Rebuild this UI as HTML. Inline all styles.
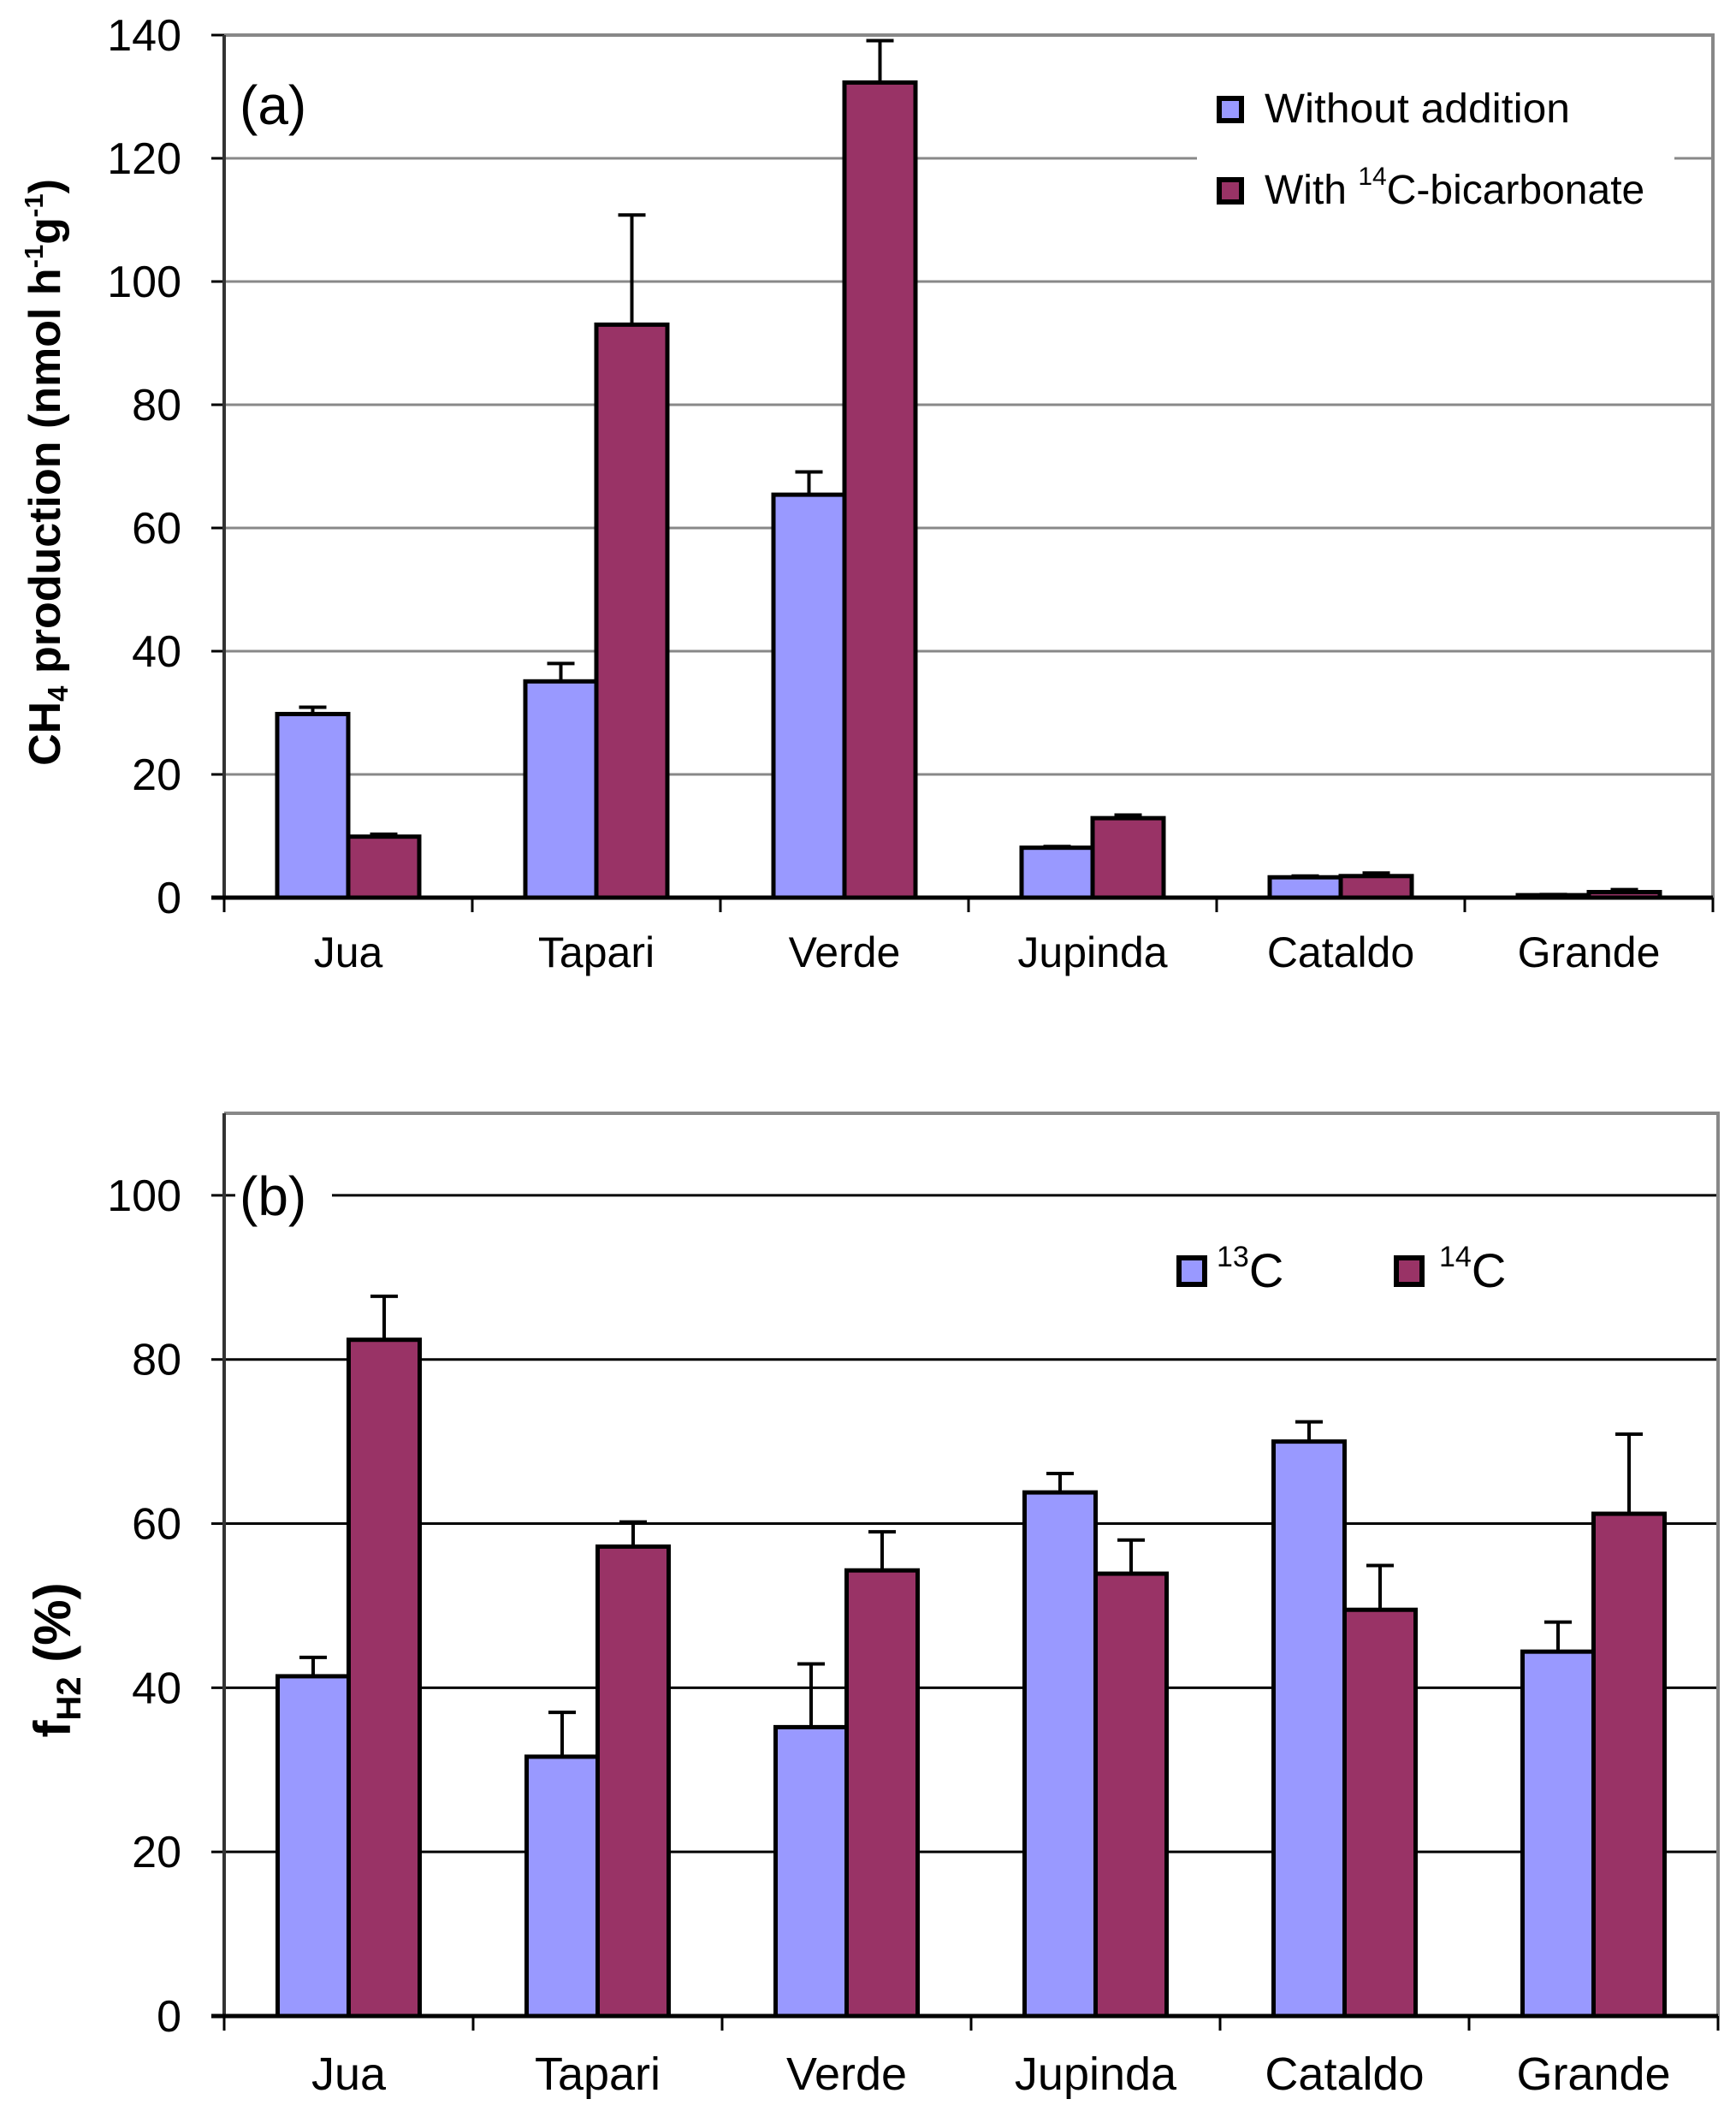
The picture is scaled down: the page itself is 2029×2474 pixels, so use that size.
<!DOCTYPE html>
<html><head><meta charset="utf-8"><style>
html,body{margin:0;padding:0;background:#fff;}
svg{display:block;font-family:"Liberation Sans",Arial,sans-serif;}
</style></head><body>
<svg id="chart" width="2029" height="2474" viewBox="0 0 2029 2474" xmlns="http://www.w3.org/2000/svg"></svg>
<script>
const categories = ["Jua","Tapari","Verde","Jupinda","Cataldo","Grande"];
const aBlue = [29.8,35.1,65.4,8.1,3.3,0.4];
const aBlueErr = [30.9,38,69.1,8.3,3.5,0.5];
const aRed = [9.9,93,132.3,12.9,3.5,0.9];
const aRedErr = [10.3,110.8,139.1,13.4,4,1.3];
const aTicks = [0,20,40,60,80,100,120,140];
const bBlue = [41.4,31.6,35.2,63.8,70,44.4];
const bBlueErr = [43.7,37,42.9,66.1,72.4,48];
const bRed = [82.4,57.2,54.3,53.9,49.5,61.2];
const bRedErr = [87.7,60.2,59,58,54.9,70.9];
const bTicks = [0,20,40,60,80,100];

const NS="http://www.w3.org/2000/svg";
const svg=document.getElementById('chart');
function mk(tag,attrs,parent){const e=document.createElementNS(NS,tag);for(const k in attrs)e.setAttribute(k,attrs[k]);(parent||svg).appendChild(e);return e;}
const BLUE="#9999ff", RED="#993366";

function panel(opt){
  const g=mk('g',{});
  
  
  const L=262,R=opt.right,T=opt.top,B=opt.bottom,max=opt.max;
  const y=v=>B-(v/max)*(B-T);
  const cw=(R-L)/categories.length;
  const x=i=>L+i*cw;
  opt.ticks.forEach(t=>{
    if(t===0)return;
    const l=mk('line',{x1:L,x2:R,y1:y(t),y2:y(t),stroke:opt.grid,'stroke-width':3},g);
    
    
  });
  const fr=mk('polyline',{points:`${L},${T} ${R},${T} ${R},${B}`,fill:'none',stroke:'#888','stroke-width':4},g);
  
  
  if(opt.legendBg){const lb=mk('rect',opt.legendBg,g);lb.setAttribute('fill','#fff');
    
    }
  const lbg=mk('rect',{x:275,y:opt.labelY-60,width:113,height:80,fill:'#fff'},g);
  
  
  opt.ticks.forEach(t=>{
    mk('line',{x1:247,x2:L,y1:y(t),y2:y(t),stroke:'#000','stroke-width':3},g);
    const tx=mk('text',{x:212,y:y(t)+18,'text-anchor':'end','font-size':opt.tickFs,fill:'#000'},g);
    tx.textContent=t;
    
    
  });
  const bw=83;
  categories.forEach((c,i)=>{
    const cx=x(i)+cw/2;
    [[opt.blue,opt.blueErr,BLUE,cx-bw,'bar-blue'],[opt.red,opt.redErr,RED,cx,'bar-red']].forEach(s=>{
      const v=s[0][i],e=s[1][i];
      const bx=s[3], by=y(v);
      const ex=bx+bw/2;
      const el=mk('line',{x1:ex,x2:ex,y1:y(e),y2:by,stroke:'#000','stroke-width':4},g);
      
      
      mk('line',{x1:ex-16,x2:ex+16,y1:y(e),y2:y(e),stroke:'#000','stroke-width':4},g);
      const r=mk('rect',{x:bx,y:by,width:bw,height:Math.max(0,B-by),fill:s[2],stroke:'#000','stroke-width':5},g);
      
      
    });
    const lt=mk('text',{x:cx,y:opt.catY,'text-anchor':'middle','font-size':opt.catFs,fill:'#000'},g);
    lt.textContent=c;
    
    
  });
  for(let i=0;i<=categories.length;i++){
    mk('line',{x1:x(i),x2:x(i),y1:B,y2:B+17,stroke:'#000','stroke-width':3},g);
  }
  const ya=mk('line',{x1:L,x2:L,y1:T,y2:B,stroke:'#333','stroke-width':4},g);
  
  
  const xa=mk('line',{x1:247,x2:R,y1:B,y2:B,stroke:'#000','stroke-width':5},g);
  
  
  const pl=mk('text',{x:280,y:opt.labelY,'font-size':64,fill:'#000'},g);
  pl.textContent=opt.label;
  
  
}

panel({name:'panel-a',right:2002,top:41,bottom:1049,max:140,grid:'#888',ticks:aTicks,
  blue:aBlue,blueErr:aBlueErr,red:aRed,redErr:aRedErr,tickFs:52,catFs:50,catY:1130,
  label:'(a)',labelY:145,legendBg:{x:1399,y:75,width:558,height:205}});
panel({name:'panel-b',right:2008,top:1301,bottom:2356,max:110,grid:'#000',ticks:bTicks,
  blue:bBlue,blueErr:bBlueErr,red:bRed,redErr:bRedErr,tickFs:52,catFs:54,catY:2442,
  label:'(b)',labelY:1420});

function legendEntry(x0,y0,w,h,color,name){
  const r=mk('rect',{x:x0,y:y0,width:w,height:h,fill:color,stroke:'#000','stroke-width':6});
  
  
}
legendEntry(1425,115,26,26,BLUE,'legend-swatch-without-addition');
legendEntry(1425,210,26,26,RED,'legend-swatch-with-bicarbonate');
let t=mk('text',{x:1478,y:143,'font-size':48,textLength:357,lengthAdjust:'spacingAndGlyphs'});
t.textContent='Without addition';


t=mk('text',{x:1478,y:238,'font-size':48});
t.innerHTML='With <tspan font-size="30" dy="-22">14</tspan><tspan dy="22">C-bicarbonate</tspan>';



legendEntry(1378,1470,30,31,BLUE,'legend-swatch-13c');
legendEntry(1632,1470,30,31,RED,'legend-swatch-14c');
t=mk('text',{x:1422,y:1504,'font-size':56});
t.innerHTML='<tspan font-size="34" dy="-24">13</tspan><tspan dy="24">C</tspan>';


t=mk('text',{x:1682,y:1504,'font-size':56});
t.innerHTML='<tspan font-size="34" dy="-24">14</tspan><tspan dy="24">C</tspan>';



t=mk('text',{x:0,y:0,'font-size':52,'font-weight':'bold','text-anchor':'middle',transform:'translate(70,552) rotate(-90)'});
t.innerHTML='CH<tspan font-size="33" dy="9">4</tspan><tspan dy="-9"> production (nmol h</tspan><tspan font-size="31" dy="-20">-1</tspan><tspan dy="20">g</tspan><tspan font-size="31" dy="-20">-1</tspan><tspan dy="20">)</tspan>';


t=mk('text',{x:0,y:0,'font-size':60,'font-weight':'bold','text-anchor':'middle',transform:'translate(82,1940) rotate(-90)'});
t.innerHTML='f<tspan font-size="40" dy="12">H2</tspan><tspan dy="-12"> (%)</tspan>';


</script>
</body></html>
